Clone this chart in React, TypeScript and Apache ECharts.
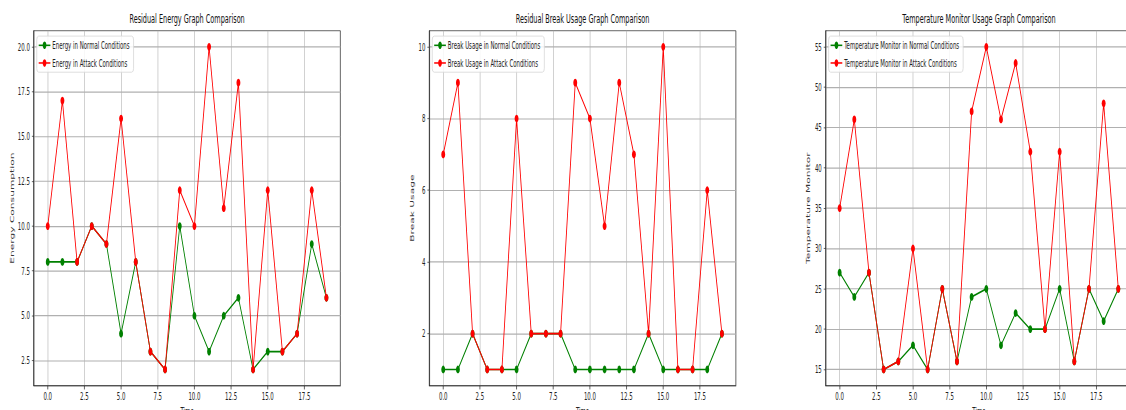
import React, { useEffect, useRef } from "react";
import * as echarts from "echarts";

const time = [0, 1, 2, 3, 4, 5, 6, 7, 8, 9, 10, 11, 12, 13, 14, 15, 16, 17, 18, 19];

const energyNormal = [8, 8, 8, 10, 9, 4, 8, 3, 2, 10, 5, 3, 5, 6, 2, 3, 3, 4, 9, 6];
const energyAttack = [10, 17, 8, 10, 9, 16, 8, 3, 2, 12, 10, 20, 11, 18, 2, 12, 3, 4, 12, 6];

const breakNormal = [1, 1, 2, 1, 1, 1, 2, 2, 2, 1, 1, 1, 1, 1, 2, 1, 1, 1, 1, 2];
const breakAttack = [7, 9, 2, 1, 1, 8, 2, 2, 2, 9, 8, 5, 9, 7, 2, 10, 1, 1, 6, 2];

const tempNormal = [27, 24, 27, 15, 16, 18, 15, 25, 16, 24, 25, 18, 22, 20, 20, 25, 16, 25, 21, 25];
const tempAttack = [35, 46, 27, 15, 16, 30, 15, 25, 16, 47, 55, 46, 53, 42, 20, 42, 16, 25, 48, 25];

const xTicks = [0, 2.5, 5, 7.5, 10, 12.5, 15, 17.5];
const energyTicks = [2.5, 5, 7.5, 10, 12.5, 15, 17.5, 20];
const breakTicks = [2, 4, 6, 8, 10];
const tempTicks = [15, 20, 25, 30, 35, 40, 45, 50, 55];

const titles = [
  "Residual Energy Graph Comparison",
  "Residual Break Usage Graph Comparison",
  "Temperature Monitor Usage Graph Comparison",
];
const yNames = ["Energy Consumption", "Break Usage", "Temperature Monitor"];
const normalNames = [
  "Energy in Normal Conditions",
  "Break Usage in Normal Conditions",
  "Temperature Monitor in Normal Conditions",
];
const attackNames = [
  "Energy in Attack Conditions",
  "Break Usage in Attack Conditions",
  "Temperature Monitor in Attack Conditions",
];

const SX = 0.39;
const SY = 0.75;
const W = Math.round(1145 / SX);
const H = Math.round(410 / SY);
const SY_CSS = 0.768;

const FONT = "DejaVu Sans";

export default function App() {
  const ref = useRef<HTMLDivElement>(null);

  useEffect(() => {
    if (!ref.current) return;
    const chart = echarts.init(ref.current, undefined, { renderer: "svg" });

    const lefts = [86.7, 1100.8, 2117.2];
    const gw = 786;
    const gtop = 40;
    const gh = 468;

    const yDefs = [
      { min: 1.1, max: 20.9, ticks: energyTicks, fmt: (v: number) => v.toFixed(1), gap: 50 },
      { min: 0.55, max: 10.45, ticks: breakTicks, fmt: (v: number) => String(v), gap: 36 },
      { min: 13, max: 57, ticks: tempTicks, fmt: (v: number) => String(v), gap: 37 },
    ];
    const normals = [energyNormal, breakNormal, tempNormal];
    const attacks = [energyAttack, breakAttack, tempAttack];

    const grid = lefts.map((l) => ({
      left: l,
      top: gtop,
      width: gw,
      height: gh,
      show: true,
      borderColor: "#222",
      borderWidth: 1.2,
      backgroundColor: "#fff",
      containLabel: false,
    }));

    const xAxis = lefts.map((_, i) => ({
      type: "value",
      gridIndex: i,
      min: -0.95,
      max: 19.95,
      minInterval: 2.5,
      maxInterval: 2.5,
      name: "Time",
      nameLocation: "middle",
      nameGap: 20,
      nameTextStyle: { fontFamily: FONT, fontSize: 13.9, color: "#222" },
      axisLine: { show: true, onZero: false, lineStyle: { color: "#222", width: 1.2 } },
      axisTick: { show: true, length: 5, customValues: xTicks, lineStyle: { color: "#222", width: 1.2 } },
      axisLabel: {
        customValues: xTicks,
        showMinLabel: true,
        showMaxLabel: true,
        margin: 7,
        fontFamily: FONT,
        fontSize: 13.9,
        color: "#222",
        formatter: (v: number) => v.toFixed(1),
      },
      splitLine: { show: true, lineStyle: { color: "#b0b0b0", width: 1.5 } },
    }));

    const yAxis = yDefs.map((d, i) => ({
      type: "value",
      gridIndex: i,
      min: d.min,
      max: d.max,
      minInterval: d.ticks[1] - d.ticks[0],
      maxInterval: d.ticks[1] - d.ticks[0],
      name: yNames[i],
      nameLocation: "middle",
      nameGap: d.gap,
      nameRotate: 90,
      nameTextStyle: { fontFamily: FONT, fontSize: 13.9, color: "#333" },
      axisLine: { show: true, onZero: false, lineStyle: { color: "#222", width: 1.2 } },
      axisTick: { show: true, length: 5, customValues: d.ticks, lineStyle: { color: "#222", width: 1.2 } },
      axisLabel: {
        customValues: d.ticks,
        showMinLabel: true,
        showMaxLabel: true,
        margin: 10,
        fontFamily: FONT,
        fontSize: 13.9,
        color: "#222",
        formatter: d.fmt,
      },
      splitLine: { show: true, lineStyle: { color: "#b0b0b0", width: 1.5 } },
    }));

    const series: any[] = [];
    for (let i = 0; i < 3; i++) {
      series.push({
        name: normalNames[i],
        type: "line",
        xAxisIndex: i,
        yAxisIndex: i,
        data: time.map((t, k) => [t, normals[i][k]]),
        symbol: "circle",
        symbolSize: 10,
        showAllSymbol: true,
        itemStyle: { color: "#008000" },
        lineStyle: { color: "#008000", width: 2.2 },
        z: 2,
      });
      series.push({
        name: attackNames[i],
        type: "line",
        xAxisIndex: i,
        yAxisIndex: i,
        data: time.map((t, k) => [t, attacks[i][k]]),
        symbol: "circle",
        symbolSize: 10,
        showAllSymbol: true,
        itemStyle: { color: "#ff0000" },
        lineStyle: { color: "#ff0000", width: 2.2 },
        z: 3,
      });
    }

    const legend = lefts.map((l, i) => ({
      orient: "vertical",
      left: l + 7.5,
      top: 47,
      data: [normalNames[i], attackNames[i]],
      itemWidth: 30,
      itemHeight: 12,
      itemGap: 9,
      padding: [5, 10, 5, 4],
      backgroundColor: "rgba(255,255,255,0.85)",
      borderColor: "#d4d4d4",
      borderWidth: 1.3,
      borderRadius: 5,
      textStyle: { fontFamily: FONT, fontSize: 13.9, color: "#222" },
      selectedMode: false,
    }));

    const title = lefts.map((l, i) => ({
      text: titles[i],
      left: l + gw / 2,
      top: 16,
      textAlign: "center",
      padding: 0,
      textStyle: { fontFamily: FONT, fontSize: 16.7, fontWeight: "normal", color: "#111" },
    }));

    chart.setOption({
      animation: false,
      backgroundColor: "#fff",
      title,
      legend,
      grid,
      xAxis,
      yAxis,
      series,
    } as any);

    return () => chart.dispose();
  }, []);

  return (
    <div
      style={{
        position: "fixed",
        left: 0,
        top: 0,
        width: 1126,
        height: 410,
        overflow: "hidden",
        background: "#fff",
      }}
    >
      <div
        ref={ref}
        style={{
          width: W,
          height: H,
          transform: `scale(${SX}, ${SY_CSS})`,
          transformOrigin: "0 0",
        }}
      />
    </div>
  );
}
